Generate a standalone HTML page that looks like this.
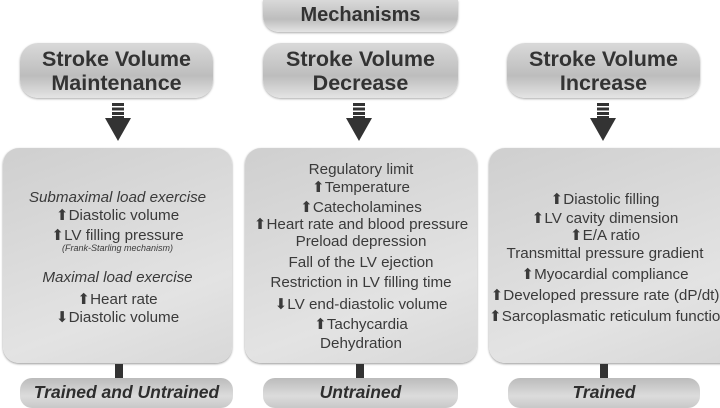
<!DOCTYPE html>
<html><head><meta charset="utf-8"><style>
body{margin:0;width:720px;height:407px;background:#fff;overflow:hidden;position:relative;font-family:"Liberation Sans",sans-serif;color:#3a3a3a}
.pill{position:absolute;border-radius:18px;background:linear-gradient(#d9d9d9,#bdbdbd 60%,#e4e4e4);text-align:center;font-weight:bold;color:#333;box-shadow:0 1px 2px #aaa}
.hd{font-size:21.5px;line-height:24px;padding-top:4px;box-sizing:border-box}
.box{position:absolute;top:148px;height:215px;border-radius:16px;background:linear-gradient(160deg,#cfcfcf,#e3e3e3 70%,#d8d8d8);box-shadow:0 1px 2px #999}
.t{position:absolute;left:0;right:0;text-align:center;font-size:15.2px;white-space:nowrap}
.bot{position:absolute;top:378px;height:30px;border-radius:12px;background:linear-gradient(#bbb,#dcdcdc 60%,#c8c8c8);text-align:center;font-weight:bold;font-style:italic;font-size:17.5px;line-height:28px;color:#2e2e2e}
.conn{position:absolute;top:364px;width:8px;height:14px;background:#333}
</style></head><body>
<div class="pill" style="left:263px;top:0;width:195px;height:32px;font-size:20px;line-height:30px;border-radius:0 0 16px 16px">Mechanisms</div>
<div class="pill hd" style="left:20px;top:43px;width:193px;height:55px">Stroke Volume<br>Maintenance</div>
<div class="pill hd" style="left:263px;top:43px;width:195px;height:55px">Stroke Volume<br>Decrease</div>
<div class="pill hd" style="left:507px;top:43px;width:193px;height:55px">Stroke Volume<br>Increase</div>

<svg width="720" height="150" style="position:absolute;left:0;top:0">
<defs><g id="ar"><rect x="-6" y="103" width="12" height="3" fill="#333"/><rect x="-6" y="107.5" width="12" height="3" fill="#333"/><rect x="-6" y="112" width="12" height="3" fill="#333"/><rect x="-6" y="116" width="12" height="3" fill="#333"/><polygon points="-13,118 13,118 0,141" fill="#333"/></g></defs>
<use href="#ar" x="118"/><use href="#ar" x="359"/><use href="#ar" x="603"/>
</svg>

<div class="box" style="left:3px;width:229px">
<div class="t" style="top:41px;font-style:italic">Submaximal load exercise</div>
<div class="t" style="top:58px">⬆Diastolic volume</div>
<div class="t" style="top:78px">⬆LV filling pressure</div>
<div class="t" style="top:95px;font-size:9px;font-style:italic">(Frank-Starling mechanism)</div>
<div class="t" style="top:121px;font-style:italic">Maximal load exercise</div>
<div class="t" style="top:142px">⬆Heart rate</div>
<div class="t" style="top:160px">⬇Diastolic volume</div>
</div>

<div class="box" style="left:245px;width:232px">
<div class="t" style="top:13px">Regulatory limit</div>
<div class="t" style="top:30px">⬆Temperature</div>
<div class="t" style="top:50px">⬆Catecholamines</div>
<div class="t" style="top:67px">⬆Heart rate and blood pressure</div>
<div class="t" style="top:85px">Preload depression</div>
<div class="t" style="top:106px">Fall of the LV ejection</div>
<div class="t" style="top:126px">Restriction in LV filling time</div>
<div class="t" style="top:147px">⬇LV end-diastolic volume</div>
<div class="t" style="top:167px">⬆Tachycardia</div>
<div class="t" style="top:187px">Dehydration</div>
</div>

<div class="box" style="left:489px;width:240px;border-radius:16px 0 0 16px">
<div class="t" style="top:42px;right:8px">⬆Diastolic filling</div>
<div class="t" style="top:61px;right:8px">⬆LV cavity dimension</div>
<div class="t" style="top:78px;right:8px">⬆E/A ratio</div>
<div class="t" style="top:97px;right:8px">Transmittal pressure gradient</div>
<div class="t" style="top:117px;right:8px">⬆Myocardial compliance</div>
<div class="t" style="top:138px;right:8px">⬆Developed pressure rate (dP/dt)</div>
<div class="t" style="top:159px;right:8px">⬆Sarcoplasmatic reticulum function</div>
</div>

<div class="conn" style="left:115px"></div>
<div class="conn" style="left:356px"></div>
<div class="conn" style="left:600px"></div>
<div class="bot" style="left:20px;width:213px">Trained and Untrained</div>
<div class="bot" style="left:263px;width:195px">Untrained</div>
<div class="bot" style="left:508px;width:192px">Trained</div>
</body></html>
